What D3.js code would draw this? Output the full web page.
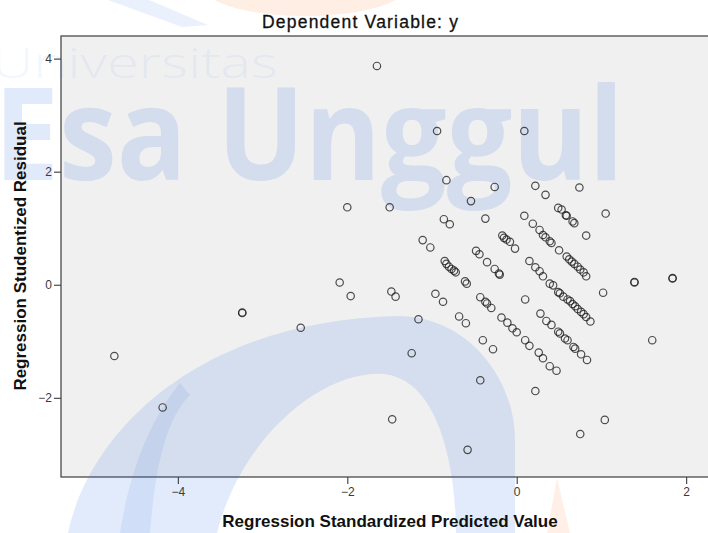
<!DOCTYPE html>
<html>
<head>
<meta charset="utf-8">
<script src="https://cdn.jsdelivr.net/npm/d3@7"></script>
<style>
  body { margin: 0; background: #fff; }
  svg { display: block; }
</style>
</head>
<body>
<div id="chart-area"></div>
<script>
/* Residual scatter: studentized residual vs standardized predicted value */

var predicted = [
  -1.65, -0.94, 0.09, -0.83, -0.26, -0.54, 0.22, 0.34, 0.74, -2.00,
  -1.50, 1.05, 0.49, 0.53, 0.58, 0.59, 0.66, 0.68, 0.82, -0.86,
  -0.79, -0.37, 0.09, 0.19, 0.27, 0.31, 0.34, 0.39, 0.41, 0.50,
  0.59, 0.62, 0.65, 0.68, 0.72, 0.75, 0.79, 0.82, -0.17, -0.15,
  -0.12, -0.08, -0.02, -1.11, -1.02, -0.48, -0.44, -0.85, -0.83, -0.80,
  -0.77, -0.74, -0.72, -0.61, -0.59, -0.35, -0.26, -0.21, -0.20, 0.15,
  0.22, 0.27, 0.31, 0.39, 0.43, 0.49, 0.51, 0.55, 0.60, 0.63,
  0.66, 0.69, 0.72, 0.76, 0.79, 0.82, 0.87, -2.09, -1.96, -1.48,
  -1.43, -0.96, -0.87, -0.43, -0.37, -0.35, -0.30, 0.10, 1.02, 1.39,
  1.39, 1.84, 1.84, -3.24, -3.24, -2.55, -1.16, -0.68, -0.60, -0.18,
  -0.11, -0.05, 0.00, 0.28, 0.35, 0.41, 0.49, 0.51, 0.57, 0.60,
  0.67, 0.69, 0.76, 0.83, -0.40, -0.28, 0.10, 0.15, 0.26, 0.31,
  0.39, 0.47, -1.24, -4.75, 1.60, -0.43, 0.22, -4.18, -1.47, 1.04,
  0.75, -0.58
];

var residual = [
  3.87, 2.72, 2.72, 1.85, 1.73, 1.48, 1.75, 1.59, 1.72, 1.37,
  1.37, 1.26, 1.36, 1.33, 1.23, 1.22, 1.12, 1.09, 0.87, 1.16,
  1.07, 1.17, 1.22, 1.08, 0.97, 0.88, 0.84, 0.77, 0.74, 0.61,
  0.50, 0.45, 0.41, 0.37, 0.32, 0.27, 0.22, 0.15, 0.87, 0.83,
  0.80, 0.76, 0.64, 0.79, 0.66, 0.60, 0.54, 0.42, 0.37, 0.32,
  0.28, 0.25, 0.22, 0.06, 0.02, 0.40, 0.28, 0.20, 0.18, 0.42,
  0.31, 0.24, 0.15, 0.02, -0.01, -0.13, -0.15, -0.21, -0.26, -0.29,
  -0.34, -0.38, -0.43, -0.48, -0.52, -0.57, -0.65, 0.04, -0.20, -0.12,
  -0.21, -0.16, -0.30, -0.22, -0.30, -0.33, -0.41, -0.26, -0.14, 0.04,
  0.05, 0.11, 0.12, -0.49, -0.50, -0.76, -0.61, -0.56, -0.68, -0.58,
  -0.67, -0.77, -0.84, -0.51, -0.64, -0.71, -0.83, -0.86, -0.95, -0.98,
  -1.10, -1.13, -1.23, -1.33, -0.98, -1.14, -0.98, -1.08, -1.20, -1.30,
  -1.44, -1.52, -1.21, -1.26, -0.98, -1.69, -1.88, -2.17, -2.38, -2.39,
  -2.64, -2.92
];

var xTicks = [-4, -2, 0, 2];
var yTicks = [-2, 0, 2, 4];

var titleText = "Dependent Variable: y";
var xLabel = "Regression Standardized Predicted Value";
var yLabel = "Regression Studentized Residual";

var W = 708, H = 533;
var margin = { left: 61, right: -12, top: 36, bottom: 56 };

var svg = d3.select("#chart-area")
    .append("svg")
    .attr("width", W)
    .attr("height", H);

var x = d3.scaleLinear()
    .domain([-5.38, 2.4])
    .range([margin.left, W - margin.right]);

var y = d3.scaleLinear()
    .domain([-3.40, 4.40])
    .range([H - margin.bottom, margin.top]);

// plot background
svg.append("rect")
    .attr("x", margin.left)
    .attr("y", margin.top)
    .attr("width", W - margin.right - margin.left)
    .attr("height", H - margin.bottom - margin.top)
    .attr("fill", "#f0f0f0")
    .attr("stroke", "#4a4a4a")
    .attr("stroke-width", 1.3);

// watermark (university logo behind the chart)
var wm = svg.append("g").attr("pointer-events", "none");

wm.append("path")
    .attr("d", "M 68,533 C 90,430 200,320 400,316 C 470,318 515,380 515,440 L 515,533 L 456,533 "
        + "C 456,470 440,380 384,374 C 320,370 240,440 217,533 Z")
    .attr("fill", "#2f6fe0")
    .attr("opacity", 0.14);

wm.append("path")
    .attr("d", "M 180,383 C 150,420 130,470 120,533 L 150,533 C 155,470 165,420 190,395 Z")
    .attr("fill", "#2f6fe0")
    .attr("opacity", 0.1);

wm.append("path")
    .attr("d", "M 108,0 L 149,0 L 208,25 L 182,27 Z")
    .attr("fill", "#2f6fe0")
    .attr("opacity", 0.1);

wm.append("ellipse")
    .attr("cx", 305).attr("cy", -12)
    .attr("rx", 100).attr("ry", 28)
    .attr("fill", "#ff7a30")
    .attr("opacity", 0.13);

wm.append("path")
    .attr("d", "M 547,533 L 557,478 L 570,533 Z")
    .attr("fill", "#ff7a30")
    .attr("opacity", 0.12);

wm.append("text")
    .attr("x", -8)
    .attr("y", 78)
    .attr("textLength", 286)
    .attr("lengthAdjust", "spacingAndGlyphs")
    .style("font-family", "'Open Sans', 'DejaVu Sans', sans-serif")
    .style("font-weight", 300)
    .style("font-size", "43px")
    .attr("fill", "#2f6fe0")
    .attr("opacity", 0.06)
    .text("Universitas");

wm.append("text")
    .attr("x", -6)
    .attr("y", 180)
    .attr("textLength", 630)
    .attr("lengthAdjust", "spacingAndGlyphs")
    .style("font-family", "'Open Sans', 'DejaVu Sans', sans-serif")
    .style("font-weight", 700)
    .style("font-size", "130px")
    .attr("fill", "#2f6fe0")
    .attr("opacity", 0.14)
    .text("Esa Unggul");

// axes
var xAxis = d3.axisBottom(x).tickValues(xTicks).tickSize(7).tickPadding(3);
var yAxis = d3.axisLeft(y).tickValues(yTicks).tickSize(7).tickPadding(2);

var gx = svg.append("g")
    .attr("transform", "translate(0," + (H - margin.bottom) + ")")
    .call(xAxis);

var gy = svg.append("g")
    .attr("transform", "translate(" + margin.left + ",0)")
    .call(yAxis);

[gx, gy].forEach(function(g) {
    g.select(".domain").remove();
    g.selectAll("line").attr("stroke", "#4a4a4a").attr("stroke-width", 1.2);
    g.selectAll("text")
        .attr("fill", "#3a3a3a")
        .style("font-family", "'Liberation Sans', Arial, sans-serif")
        .style("font-size", "12px");
});

// points
svg.append("g")
    .selectAll("circle")
    .data(predicted)
    .enter()
    .append("circle")
    .attr("cx", function(d) { return x(d); })
    .attr("cy", function(d, i) { return y(residual[i]); })
    .attr("r", 3.7)
    .attr("fill", "none")
    .attr("stroke", "#1e1e1e")
    .attr("stroke-opacity", 0.78)
    .attr("stroke-width", 1.2);

// titles
svg.append("text")
    .attr("x", 360)
    .attr("y", 27.5)
    .attr("text-anchor", "middle")
    .attr("textLength", 196)
    .attr("lengthAdjust", "spacing")
    .style("font-family", "'Liberation Sans', Arial, sans-serif")
    .style("font-size", "17.5px")
    .attr("fill", "#111")
    .attr("stroke", "#111")
    .attr("stroke-width", 0.3)
    .text(titleText);

svg.append("text")
    .attr("x", 390)
    .attr("y", 527)
    .attr("text-anchor", "middle")
    .style("font-family", "'Liberation Sans', Arial, sans-serif")
    .style("font-weight", "bold")
    .style("font-size", "17px")
    .attr("fill", "#111")
    .text(xLabel);

svg.append("text")
    .attr("transform", "translate(26,256) rotate(-90)")
    .attr("text-anchor", "middle")
    .style("font-family", "'Liberation Sans', Arial, sans-serif")
    .style("font-weight", "bold")
    .style("font-size", "17px")
    .attr("fill", "#111")
    .text(yLabel);
</script>
</body>
</html>
